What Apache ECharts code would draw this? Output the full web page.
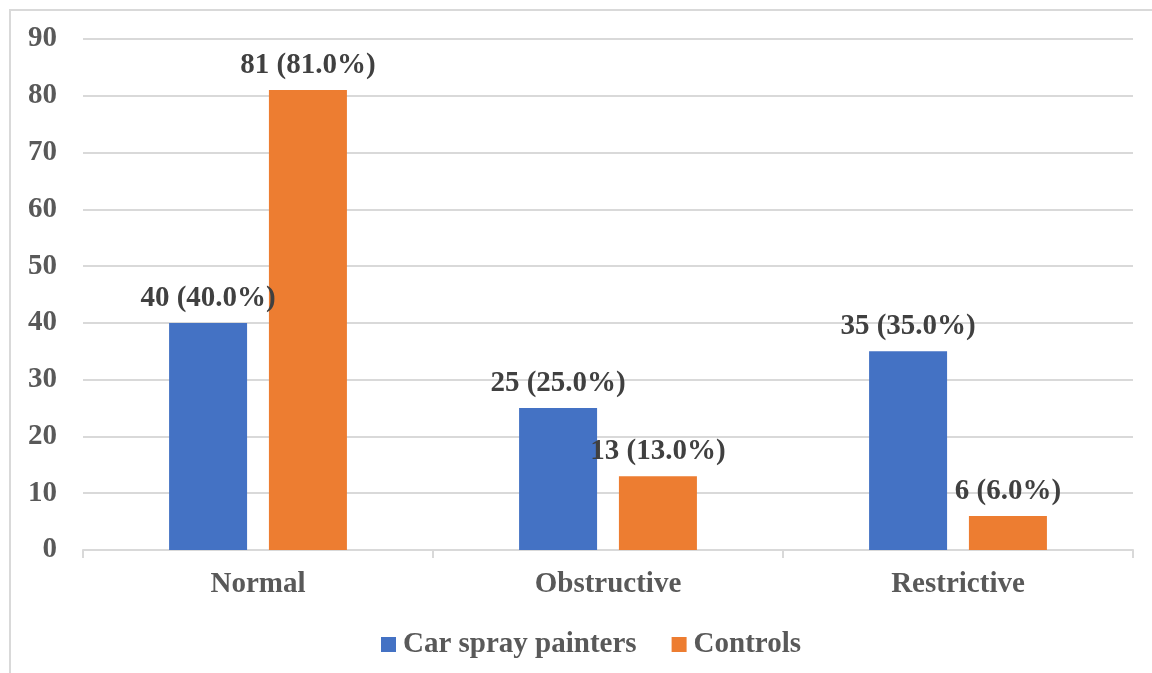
<!DOCTYPE html>
<html>
<head>
<meta charset="utf-8">
<script src="https://cdn.jsdelivr.net/npm/echarts@6/dist/echarts.min.js"></script>
<style>
  html, body { margin: 0; padding: 0; background: #fff; }
  #chart { width: 1152px; height: 673px; }
</style>
</head>
<body>
<div id="chart"></div>
<script>
// data
const categories = ['Normal', 'Obstructive', 'Restrictive']
const painters = [40, 25, 35]
const controls = [81, 13, 6]
const groupSize = 100   // n in each group
const yTicks = { min: 0, max: 90, interval: 10 }

const serif = '"Liberation Serif", "Times New Roman", serif'

const labelFmt = (p) => p.value + ' (' + (p.value / groupSize * 100).toFixed(1) + '%)'

const chart = echarts.init(document.getElementById('chart'))

const barLabel = {
  show: true,
  position: 'top',
  distance: 10,
  formatter: labelFmt,
  color: '#404040',
  fontFamily: serif,
  fontWeight: 'bold',
  fontSize: 29,
}

chart.setOption({
  animation: false,
  backgroundColor: '#fff',
  graphic: [
    {
      type: 'rect',
      shape: { x: 10, y: 10, width: 1300, height: 800 },
      style: { fill: 'none', stroke: '#d9d9d9', lineWidth: 2 },
      silent: true,
    },
  ],
  grid: { left: 83, right: 19, top: 39, bottom: 123 },
  legend: {
    left: 376,
    top: 625,
    itemWidth: 15,
    itemHeight: 15,
    itemGap: 35,
    icon: 'rect',
    textStyle: {
      color: '#595959',
      fontFamily: serif,
      fontWeight: 'bold',
      fontSize: 29,
      padding: [0, 0, 0, 2],
    },
    data: ['Car spray painters', 'Controls'],
  },
  xAxis: {
    type: 'category',
    data: categories,
    axisLine: { lineStyle: { color: '#d9d9d9', width: 2 } },
    axisTick: { show: true, length: 8, lineStyle: { color: '#d9d9d9', width: 2 } },
    axisLabel: {
      margin: 20,
      color: '#595959',
      fontFamily: serif,
      fontWeight: 'bold',
      fontSize: 29,
    },
  },
  yAxis: {
    type: 'value',
    min: yTicks.min,
    max: yTicks.max,
    interval: yTicks.interval,
    axisLine: { show: false },
    axisTick: { show: false },
    splitLine: { lineStyle: { color: '#d9d9d9', width: 2 } },
    axisLabel: {
      margin: 26,
      color: '#595959',
      fontFamily: serif,
      fontWeight: 'bold',
      fontSize: 29,
      verticalAlign: 'middle',
      padding: [3, 0, 0, 0],
    },
  },
  series: [
    {
      name: 'Car spray painters',
      type: 'bar',
      data: painters,
      barWidth: 78,
      barGap: '28%',
      itemStyle: { color: '#4472C4' },
      label: barLabel,
    },
    {
      name: 'Controls',
      type: 'bar',
      data: controls,
      barWidth: 78,
      barGap: '28%',
      itemStyle: { color: '#ED7D31' },
      label: barLabel,
    },
  ],
})
</script>
</body>
</html>
